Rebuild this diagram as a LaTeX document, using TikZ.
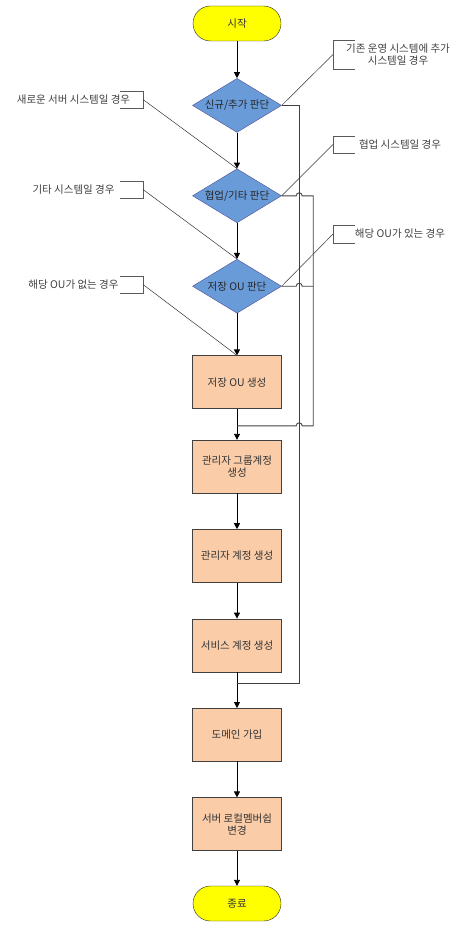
\documentclass[tikz,border=0pt]{standalone}
\usepackage{fontspec}
\setmainfont{Noto Sans CJK KR}
\usetikzlibrary{calc,arrows.meta,positioning,shapes.geometric}
\definecolor{termyellow}{RGB}{255,255,0}
\definecolor{decblue}{RGB}{106,155,217}
\definecolor{procpeach}{RGB}{250,204,168}
\tikzset{flow/.style={-{Triangle[length=6pt,width=6pt]},line width=0.9pt}}

\begin{document}
\begin{tikzpicture}[x=1pt,y=1pt,font=\fontsize{10.5}{12}\selectfont,node distance=36pt and 36pt]

\tikzset{yellownode/.style={fill=termyellow,draw=black!85,rounded corners=17.5pt,minimum width=88pt,minimum height=35pt,inner sep=0pt,text=black!80},
bluenode/.style={shape=diamond,fill=decblue,draw=black!60!blue!70,minimum width=89pt,minimum height=54pt,inner sep=0pt,shape aspect=1.65,text=black!85},
peachnode/.style={fill=procpeach,draw=black!75,minimum width=89pt,minimum height=53pt,inner sep=0pt,align=center,text=black!80},
note/.style={align=center,inner sep=0pt,text=black!75},
bracket/.style={draw=black!65,line width=0.9pt},
noteline/.style={draw=black!80,line width=0.5pt},
looplink/.style={draw=black!75,line width=0.9pt}}

\useasboundingbox (0,0) rectangle (475,-928);

% Main flow
\node[yellownode] (start) at (237,-23.5) {시작};
\node[bluenode,below=37pt of start] (d1) {신규/추가 판단};
\node[bluenode,below=36pt of d1] (d2) {협업/기타 판단};
\node[bluenode,below=36pt of d2] (d3) {저장 OU 판단};
\node[peachnode,below=42pt of d3] (p1) {저장 OU 생성};
\node[peachnode,below=31pt of p1] (p2) {관리자 그룹계정\\생성};
\node[peachnode,below=36pt of p2] (p3) {관리자 계정 생성};
\node[peachnode,below=36pt of p3] (p4) {서비스 계정 생성};
\node[peachnode,below=36pt of p4] (p5) {도메인 가입};
\node[peachnode,below=36pt of p5] (p6) {서버 로컬멤버쉽\\변경};
\node[yellownode,below=35pt of p6] (finish) {종료};

\foreach \a/\b in {start/d1,d1/d2,d2/d3,d3/p1,p1/p2,p2/p3,p3/p4,p4/p5,p5/p6,p6/finish} \draw[flow] (\a) -- (\b);

% Junctions and loop lines
\coordinate (j1) at ($(p4.south)+(0,-11)$);
\coordinate (j2) at ($(p1.south)+(0,-17)$);
\coordinate (v1) at ($(d1.east)+(17.5,0)$);
\coordinate (v2) at ($(d1.east)+(31.5,0)$);

\draw[looplink] (d1.east) -- (d1.east -| v1) -- (j1 -| v1) -- (j1);
\draw[looplink] (d2.east) -- ($(d2.east -| v1)+(-3,0)$) arc[start angle=180,end angle=0,radius=3] -- (d2.east -| v2) -- (j2 -| v2) -- ($(j2 -| v1)+(3,0)$) arc[start angle=0,end angle=180,radius=3] -- (j2);
\draw[looplink] (d3.east) -- ($(d3.east -| v1)+(-3,0)$) arc[start angle=180,end angle=0,radius=3] -- (d3.east -| v2);

% Notes on the left
\foreach \i/\y/\txt/\to in {1/99.5/새로운 서버 시스템일 경우/d2.north,2/189.5/기타 시스템일 경우/d3.north,3/284.5/해당 OU가 없는 경우/p1.north} {
  \node[note] (nl\i) at (73.5,-\y) {\txt};
  \coordinate (kl\i) at (143,-\y);
  \draw[bracket] ($(kl\i)+(-23,8.5)$) -- ($(kl\i)+(0,8.5)$) -- ($(kl\i)+(0,-8.5)$) -- ($(kl\i)+(-23,-8.5)$);
  \draw[noteline] (kl\i) -- (\to);
}

% Notes on the right
\node[note] (nr1) at (398,-54.5) {기존 운영 시스템에 추가\\시스템일 경우};
\node[note] (nr2) at (400,-144.5) {협업 시스템일 경우};
\node[note] (nr3) at (400,-234) {해당 OU가 있는 경우};
\foreach \i/\y/\h/\to in {1/54.5/14.5/d1.east,2/144.5/8.5/d2.east,3/234/9/d3.east} {
  \coordinate (kr\i) at (333,-\y);
  \draw[bracket] ($(kr\i)+(22,\h)$) -- ($(kr\i)+(0,\h)$) -- ($(kr\i)+(0,-\h)$) -- ($(kr\i)+(22,-\h)$);
  \draw[noteline] (kr\i) -- (\to);
}

\end{tikzpicture}
\end{document}
